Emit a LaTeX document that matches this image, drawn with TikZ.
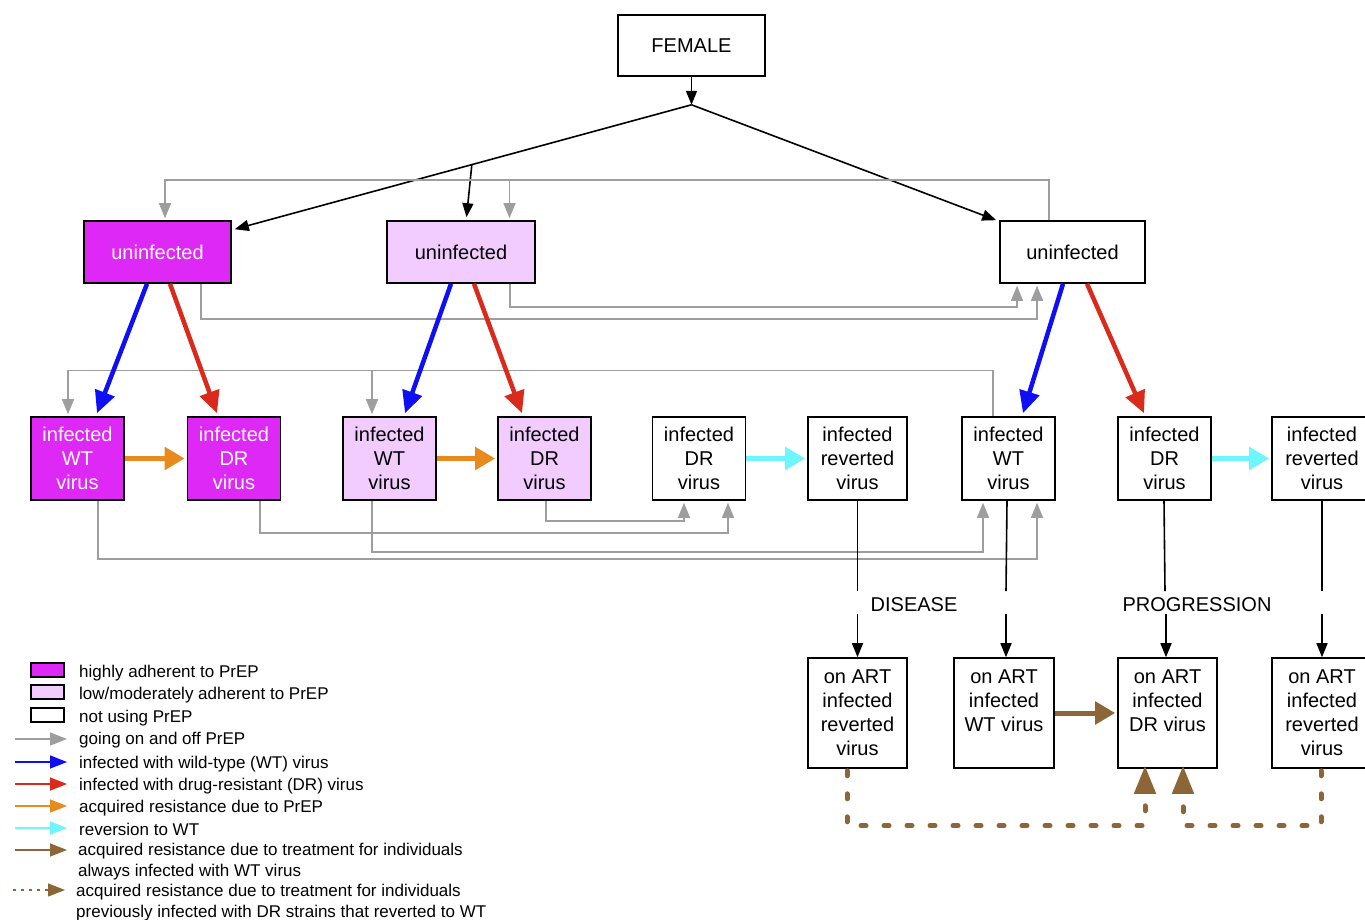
\documentclass[tikz,border=0pt]{standalone}
\usepackage{fontspec}
\setmainfont{Liberation Sans}
\usetikzlibrary{arrows.meta,calc}
\definecolor{mag}{RGB}{221,40,246}
\definecolor{pinkf}{RGB}{243,204,255}
\definecolor{gline}{RGB}{158,158,158}
\definecolor{wtblue}{RGB}{15,15,245}
\definecolor{drred}{RGB}{218,42,28}
\definecolor{prorange}{RGB}{232,138,30}
\definecolor{revcyan}{RGB}{110,245,255}
\definecolor{artbrown}{RGB}{140,102,55}
\begin{document}
\begin{tikzpicture}[x=1pt,y=-1pt,
  stbox/.style={draw=black,line width=1.6pt,inner sep=0pt,align=center,font=\fontsize{20}{24}\selectfont},
  hi/.style={stbox,fill=mag,text=white},
  lo/.style={stbox,fill=pinkf},
  nou/.style={stbox,fill=white},
  topbox/.style={minimum width=147pt,minimum height=62pt},
  midbox/.style={minimum width=93pt,minimum height=83pt},
  botbox/.style={minimum width=99pt,minimum height=110pt},
  blk/.style={line width=1.6pt,-{Triangle[length=14pt,width=11pt]}},
  blkline/.style={line width=1.6pt},
  gry/.style={draw=gline,line width=1.4pt,-{Triangle[length=15pt,width=12pt]}},
  fatarr/.style={line width=4.5pt,-{Triangle[length=22pt,width=20pt]}},
  sidearr/.style={line width=5pt,-{Triangle[length=20pt,width=22pt]}},
  dotbrown/.style={draw=artbrown,line width=5pt,line cap=round,dash pattern=on 5pt off 18pt,-{Triangle[length=28pt,width=21pt,line cap=butt]}},
  lab/.style={font=\fontsize{20}{24}\selectfont,inner sep=0pt},
  leg/.style={anchor=base west,font=\fontsize{17}{20}\selectfont,inner sep=0pt},
  legarr/.style={line width=1.6pt,-{Triangle[length=17pt,width=13pt]}},
  sw/.style={draw=black,line width=1.6pt,minimum width=33pt,minimum height=14pt,inner sep=0pt},
]
\useasboundingbox (0,0) rectangle (1365,920);
\clip (0,0) rectangle (1365,920);

% ---------- nodes ----------
\node[nou,minimum width=147pt,minimum height=61pt] (F) at (691.5,45.5) {FEMALE};

\node[hi,topbox] (U1) at (157.5,252) {uninfected};
\node[lo,topbox,minimum width=148pt] (U2) at (461,252) {uninfected};
\node[nou,topbox,minimum width=145pt] (U3) at (1072.5,252) {uninfected};

\node[hi,midbox] (A1) at (77.5,458.5) {infected\\WT\\virus};
\node[hi,midbox] (A2) at (234,458.5) {infected\\DR\\virus};
\node[lo,midbox] (B1) at (389.5,458.5) {infected\\WT\\virus};
\node[lo,midbox] (B2) at (544.5,458.5) {infected\\DR\\virus};
\node[nou,midbox] (C1) at (699,458.5) {infected\\DR\\virus};
\node[nou,midbox,minimum width=99pt] (C2) at (857.5,458.5) {infected\\reverted\\virus};
\node[nou,midbox] (D1) at (1008.5,458.5) {infected\\WT\\virus};
\node[nou,midbox] (D2) at (1164.5,458.5) {infected\\DR\\virus};
\node[nou,midbox,minimum width=100pt] (D3) at (1322,458.5) {infected\\reverted\\virus};

\node[nou,botbox] (E1) at (857.5,713) {on ART\\infected\\reverted\\virus};
\node[nou,botbox,minimum width=100pt] (E2) at (1004,713) {on ART\\infected\\WT virus\\\mbox{}};
\node[nou,botbox] (E3) at (1167.5,713) {on ART\\infected\\DR virus\\\mbox{}};
\node[nou,botbox,minimum width=100pt] (E4) at (1322,713) {on ART\\infected\\reverted\\virus};

\node[lab] (dis) at (914,605) {DISEASE};
\node[lab] (prog) at (1197,605) {PROGRESSION};

% ---------- black arrows from FEMALE ----------
\coordinate (J) at ($(F.south)+(0,28)$);
\coordinate (T1) at ($(U1.north east)+(3,9)$);
\coordinate (T3) at ($(U3.north west)+(-3,0)$);
\coordinate (Br) at ($(J)!0.481!(T1)$);
\draw[blk] (F.south) -- (J);
\draw[blk] (J) -- (T1);
\draw[blk] (J) -- (T3);
\draw[blk] (Br) -- ($(U2.north)+(5.5,-3)$);

% ---------- gray on/off PrEP ----------
\draw[gry] ($(U3.north)+(-23.5,0)$) -- ++(0,-40) -| ($(U1.north)+(7.5,-2)$);
\draw[gry] ($(U2.north)+(48.5,-40)$) -- ($(U2.north)+(48.5,-2)$);
\draw[gry] ($(U1.south)+(43.5,0)$) -- ++(0,35) -| ($(U3.south)+(-35.5,2)$);
\draw[gry] ($(U2.south)+(49,0)$) -- ++(0,23) -| ($(U3.south)+(-55.5,2)$);

\draw[gry] ($(D1.north)+(-15.5,0)$) -- ++(0,-46) -| ($(A1.north)+(-9.5,-2)$);
\draw[gry] ($(B1.north)+(-17.5,-46)$) -- ($(B1.north)+(-17.5,-2)$);
\draw[gry] ($(A1.south)+(20.5,0)$) -- ++(0,58) -| ($(D1.south)+(28.5,2)$);
\draw[gry] ($(B1.south)+(-17.5,0)$) -- ++(0,51) -| ($(D1.south)+(-25.5,2)$);
\draw[gry] ($(A2.south)+(26,0)$) -- ++(0,32) -| ($(C1.south)+(29,2)$);
\draw[gry] ($(B2.south)+(1.5,0)$) -- ++(0,20) -| ($(C1.south)+(-15,2)$);

% ---------- infection arrows ----------
\draw[fatarr,draw=wtblue] ($(U1.south)+(-10.5,0)$) -- ($(A1.north)+(19.5,-3)$);
\draw[fatarr,draw=drred] ($(U1.south)+(12.5,0)$) -- ($(A2.north)+(-17,-3)$);
\draw[fatarr,draw=wtblue] ($(U2.south)+(-10,0)$) -- ($(B1.north)+(15.5,-3)$);
\draw[fatarr,draw=drred] ($(U2.south)+(13,0)$) -- ($(B2.north)+(-22.5,-3)$);
\draw[fatarr,draw=wtblue] ($(U3.south)+(-9.5,0)$) -- ($(D1.north)+(14.5,-3)$);
\draw[fatarr,draw=drred] ($(U3.south)+(14.5,0)$) -- ($(D2.north)+(-20.5,-3)$);

% ---------- acquired resistance / reversion ----------
\draw[sidearr,draw=prorange] (A1.east) -- ([xshift=-2pt]A2.west);
\draw[sidearr,draw=prorange] (B1.east) -- ([xshift=-2pt]B2.west);
\draw[sidearr,draw=revcyan] (C1.east) -- ([xshift=-2pt]C2.west);
\draw[sidearr,draw=revcyan] (D2.east) -- ([xshift=-2pt]D3.west);

% ---------- disease progression ----------
\draw[blkline] (C2.south) -- ($(E1.north)+(0,-66)$);
\draw[blk] ($(E1.north)+(0,-43)$) -- (E1.north);
\draw[blkline] ($(D1.south)+(-1.5,0)$) -- ($(E2.north)+(2,-66)$);
\draw[blk] ($(E2.north)+(2,-43)$) -- ($(E2.north)+(2,0)$);
\draw[blkline] ($(D2.south)+(-0.5,0)$) -- ($(E3.north)+(-2.5,-66)$);
\draw[blk] ($(E3.north)+(-1.5,-43)$) -- ($(E3.north)+(-1.5,0)$);
\draw[blkline] (D3.south) -- ($(E4.north)+(0,-66)$);
\draw[blk] ($(E4.north)+(0,-43)$) -- (E4.north);

% ---------- treatment resistance ----------
\draw[sidearr,draw=artbrown] (E2.east) -- ([xshift=-2pt]E3.west);
\draw[dotbrown] ($(E1.south)+(-10.5,2)$) -- ++(0,55) -| ($(E3.south)+(-22.5,-3)$);
\draw[dotbrown] ($(E4.south)+(-1,2)$) -- ++(0,55) -| ($(E3.south)+(15.5,-3)$);

% ---------- legend ----------
\node[sw,fill=mag] (L1) at (47.5,670) {};
\node[sw,fill=pinkf] (L2) at (47.5,692) {};
\node[sw,fill=white] (L3) at (47.5,715) {};
\node[leg] (LT1) at (79,677) {highly adherent to PrEP};
\node[leg] (LT2) at (79,699) {low/moderately adherent to PrEP};
\node[leg] (LT3) at (79,722) {not using PrEP};
\node[leg] (LT4) at (79,744) {going on and off PrEP};
\node[leg] (LT5) at (79,768) {infected with wild-type (WT) virus};
\node[leg] (LT6) at (79,790) {infected with drug-resistant (DR) virus};
\node[leg] (LT7) at (79,812) {acquired resistance due to PrEP};
\node[leg] (LT8) at (79,835) {reversion to WT};
\node[leg] (LT9) at (78,855) {acquired resistance due to treatment for individuals};
\node[leg] (LT9b) at (78,876) {always infected with WT virus};
\node[leg] (LT10) at (76,896) {acquired resistance due to treatment for individuals};
\node[leg] (LT10b) at (76,917) {previously infected with DR strains that reverted to WT};

\coordinate (la1) at (15,739);  \coordinate (lb1) at (67,739);
\coordinate (la2) at (15,762);  \coordinate (lb2) at (67,762);
\coordinate (la3) at (15,784);  \coordinate (lb3) at (67,784);
\coordinate (la4) at (15,806);  \coordinate (lb4) at (67,806);
\coordinate (la5) at (15,828);  \coordinate (lb5) at (67,828);
\coordinate (la6) at (15,850);  \coordinate (lb6) at (67,850);
\coordinate (la7) at (13,890);  \coordinate (lb7) at (65,890);
\draw[legarr,draw=gline] (la1) -- (lb1);
\draw[legarr,draw=wtblue] (la2) -- (lb2);
\draw[legarr,draw=drred] (la3) -- (lb3);
\draw[legarr,draw=prorange] (la4) -- (lb4);
\draw[legarr,draw=revcyan] (la5) -- (lb5);
\draw[legarr,draw=artbrown] (la6) -- (lb6);
\draw[legarr,draw=artbrown,line width=1.3pt,dash pattern=on 3pt off 5pt] (la7) -- (lb7);
\end{tikzpicture}
\end{document}
